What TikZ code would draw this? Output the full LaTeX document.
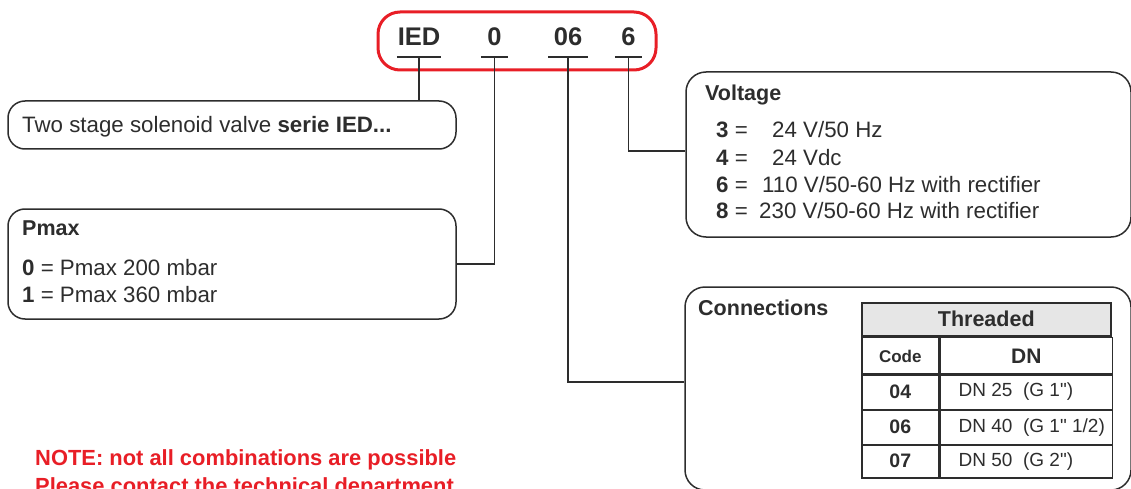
\documentclass[tikz,border=0pt]{standalone}
\usepackage{fontspec}
\setmainfont{Liberation Sans}
\newfontfamily\rawfont{Liberation Sans}
\usepackage{tikz}
\usetikzlibrary{positioning}
\definecolor{notered}{RGB}{232,30,38}
\definecolor{linegray}{RGB}{45,45,45}
\definecolor{tabgray}{RGB}{230,230,230}
\newcommand{\inch}{{\rawfont\symbol{34}}}
\tikzstyle{codebox} = [rectangle, rounded corners=22pt, draw=notered, line width=3pt, minimum width=278pt, minimum height=58pt]
\tikzstyle{codepart} = [inner xsep=0pt, inner ysep=11pt, text depth=0pt, anchor=south, font=\fontsize{25.5}{30}\selectfont\bfseries, text=linegray]
\tikzstyle{infobox} = [rectangle, rounded corners=17pt, draw=linegray, line width=1.5pt, inner sep=0pt]
\tikzstyle{boxtitle} = [anchor=base west, inner sep=0pt, font=\fontsize{21.5}{26}\selectfont\bfseries, text=linegray]
\tikzstyle{boxtext} = [anchor=base west, inner sep=0pt, font=\fontsize{22.3}{26}\selectfont, text=linegray]
\tikzstyle{link} = [line width=1.6pt, draw=linegray]
\tikzstyle{cell} = [rectangle, draw=linegray, line width=1.5pt, inner sep=0pt, anchor=north west, text=linegray]
\tikzstyle{note} = [anchor=base west, inner sep=0pt, font=\fontsize{21.9}{26}\selectfont\bfseries, text=notered]

\begin{document}
\begin{tikzpicture}[x=1pt, y=-1pt]
  \clip (0,0) rectangle (1131,489);
  % code
  \node (code)[codebox] at (517,41) {};
  \node (ied)[codepart, minimum width=44pt] at (419,57) {IED};
  \node (p0)[codepart, minimum width=27pt] at (494.5,57) {0};
  \node (c06)[codepart, minimum width=39pt] at (568,57) {06};
  \node (v6)[codepart, minimum width=27pt] at (628.5,57) {6};
  \foreach \part in {ied,p0,c06,v6}
    \draw [link] (\part.south west)--(\part.south east);

  % boxes
  \node (serie)[infobox, minimum width=448pt, minimum height=48pt] at (232,125) {};
  \node (pmaxbox)[infobox, minimum width=448pt, minimum height=110pt] at (232,264) {};
  \node (voltbox)[infobox, rounded corners=20pt, minimum width=445pt, minimum height=165pt] at (908.5,154.5) {};
  \node (connbox)[infobox, rounded corners=20pt, minimum width=446pt, minimum height=203pt] at (908,388.5) {};

  \draw [link] (ied.south)--(ied.south |- serie.north);
  \draw [link] (p0.south) |- (pmaxbox.east);
  \draw [link] (c06.south) |- ([yshift=6.5pt]connbox.west);
  \draw [link] (v6.south) |- ([yshift=3.5pt]voltbox.west);

  \node (serietext)[boxtext] at (22,133) {Two stage solenoid valve \textbf{serie IED...}};

  \node (pmaxtitle)[boxtitle] at (22,235) {Pmax};
  \node (pmax0)[boxtext] at (22,275) {\textbf{0} = Pmax 200 mbar};
  \node (pmax1)[boxtext] at (22,302) {\textbf{1} = Pmax 360 mbar};

  \node (volttitle)[boxtitle] at (705,101) {Voltage};
  \foreach \vc/\vtext/\vx/\vy in {3/{24 V/50 Hz}/772/138, 4/{24 Vdc}/772/165, 6/{110 V/50-60 Hz with rectifier}/762/192, 8/{230 V/50-60 Hz with rectifier}/759/218} {
    \node (vcode\vc)[boxtext] at (716,\vy) {\textbf{\vc} =};
    \node (vtext\vc)[boxtext] at (\vx,\vy) {\vtext};
  }

  \node (conntitle)[boxtitle] at (698,315) {Connections};

  % table
  \node (thr)[cell, fill=tabgray, minimum width=249pt, minimum height=33pt, font=\fontsize{21.5}{26}\selectfont\bfseries] at (861,302) {Threaded};
  \node (hcode)[cell, minimum width=77pt, minimum height=38pt, font=\fontsize{17}{20}\selectfont\bfseries] at (thr.south west) {Code};
  \node (hdn)[cell, minimum width=172pt, minimum height=38pt, font=\fontsize{21}{25}\selectfont\bfseries] at (hcode.north east) {DN};
  \foreach \c/\dn/\ytop/\rh in {04/{DN 25\ \ (G 1\inch)}/373/36, 06/{DN 40\ \ (G 1\inch{} 1/2)}/409/35, 07/{DN 50\ \ (G 2\inch)}/444/33} {
    \node (code\c)[cell, minimum width=77pt, minimum height=\rh pt, font=\fontsize{19.5}{23}\selectfont\bfseries] at (861,\ytop) {\c};
    \node (dncell\c)[cell, minimum width=172pt, minimum height=\rh pt] at (code\c.north east) {};
    \node (dn\c)[anchor=west, inner sep=0pt, text=linegray, font=\fontsize{19}{23}\selectfont] at ([xshift=19pt]dncell\c.west) {\dn};
  }

  \node (note1)[note] at (35,465) {NOTE: not all combinations are possible};
  \node (note2)[note] at (35,493) {Please contact the technical department};
\end{tikzpicture}
\end{document}
